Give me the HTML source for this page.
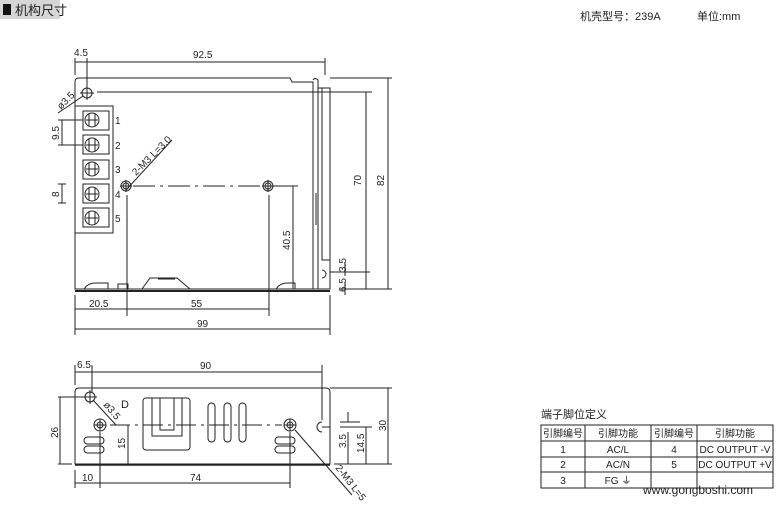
<!DOCTYPE html>
<html><head><meta charset="utf-8"><style>
body{margin:0;background:#fff;width:776px;height:507px;overflow:hidden}
svg{display:block}
text{font-family:"Liberation Sans","Noto Sans CJK SC",sans-serif;fill:#222}
</style></head><body>
<svg width="776" height="507" viewBox="0 0 776 507" xmlns="http://www.w3.org/2000/svg">
<rect x="0" y="0" width="60" height="19" fill="#d6d6d6"/>
<rect x="3" y="4" width="8" height="11" fill="#111"/>
<text x="15" y="15" font-size="13">机构尺寸</text>
<text x="580" y="20" font-size="11" fill="#444">机壳型号：239A</text>
<text x="697" y="20" font-size="11" fill="#444">单位:mm</text>

<g stroke="#222" fill="none" stroke-width="1">
<path d="M79 78 H290 L292 82 H313 V289 H75 V82 Q75 78 79 78Z"/>
<path d="M313 80 Q315 77 318 80 V289"/>
<path d="M318 88 H330 V289 H75"/>
<path d="M75 291 H330" stroke-width="2"/>
<path d="M322 88 V260 H330"/>
<path d="M316 193 V225"/>
<path d="M322 270 a4 4 0 1 1 0 8"/>
<circle cx="87" cy="93" r="5"/><path d="M80 93 H94 M87 86 V100"/>
<path d="M97 92 H372"/>
<rect x="75" y="106" width="38" height="127"/>
<rect x="83" y="111" width="26" height="19"/><rect x="83" y="135" width="26" height="19"/>
<rect x="83" y="160" width="26" height="19"/><rect x="83" y="184" width="26" height="19"/>
<rect x="83" y="208" width="26" height="19"/>
<g>
<circle cx="92" cy="120" r="7"/><circle cx="92" cy="145" r="7"/><circle cx="92" cy="169" r="7"/><circle cx="92" cy="194" r="7"/><circle cx="92" cy="218" r="7"/>
<path d="M89 114v12m6-12v12M86 120h12 M89 139v12m6-12v12M86 145h12 M89 163v12m6-12v12M86 169h12 M89 188v12m6-12v12M86 194h12 M89 212v12m6-12v12M86 218h12"/>
</g>
<circle cx="126" cy="186" r="5"/><circle cx="126" cy="186" r="3"/><path d="M120 186h12M126 180v12"/>
<circle cx="268" cy="186" r="5"/><circle cx="268" cy="186" r="3"/><path d="M262 186h12M268 180v12"/>
<path d="M133 186 H298" stroke-dasharray="22 5 3 5"/>
<path d="M126 190 L172 140"/>
<path d="M84 289 Q88 283 95 283 H108 V289 M118 289 V284 H128 V289 M142 289 L150 278 H177 L190 289 M158 279 H175 M276 289 Q280 283 287 283 H295 V289"/>
<path d="M75 58 V75 M87 58 V88 M325 58 V75 M75 62 H325"/>
<path d="M330 78 H392 M340 289 H392 M388 78 V289 M366 92 V289"/>
<path d="M330 272 H370 M345 262 V276 M345 282 V295"/>
<path d="M58 120 H83 M58 145 H83 M62 120 V145"/>
<path d="M58 184 H66 M58 203 H66 M62 184 V203"/>
<path d="M58 113 L83 96"/>
<path d="M275 186 H298 M293 186 V289"/>
<path d="M75 295 V335 M330 295 V335 M127 195 V316 M269 195 V316 M75 309 H269 M75 329 H330"/>

<path d="M79 388 H326 Q330 388 330 392 V464 H75 V392 Q75 388 79 388Z"/>
<path d="M75 465 H330" stroke-width="1.5"/>
<circle cx="90" cy="397" r="5"/><path d="M83 397h14M90 390v14"/>
<path d="M93 400 L116 425"/>
<circle cx="100" cy="425" r="6"/><circle cx="100" cy="425" r="3"/><path d="M94 425h12M100 419v12"/>
<circle cx="290" cy="425" r="6"/><circle cx="290" cy="425" r="3"/><path d="M284 425h12M290 419v12"/>
<path d="M110 425 H282" stroke-dasharray="20 5 3 5"/>
<path d="M295 430 L352 495"/>
<rect x="143" y="398" width="47" height="52" rx="3"/>
<path d="M152 398 V436 H182 V398 M160 398 V430 H174 V398"/>
<rect x="208" y="403" width="7" height="39" rx="3.5"/><rect x="224" y="403" width="7" height="39" rx="3.5"/><rect x="239" y="403" width="7" height="39" rx="3.5"/>
<rect x="84" y="437" width="20" height="7" rx="3.5"/><rect x="84" y="446" width="20" height="7" rx="3.5"/>
<rect x="275" y="437" width="20" height="7" rx="3.5"/><rect x="275" y="446" width="20" height="7" rx="3.5"/>
<path d="M322 422 a5 5 0 1 0 0 10 M322 427 h8"/>
<path d="M58 397 H85 M58 464 H72 M60 397 V464"/>
<path d="M110 425 H130 M128 425 V464"/>
<path d="M330 388 H392 M388 388 V464 M334 464 H392 M340 427 H372 M366 427 V464 M340 422 H360 M348 412 V422 M348 432 V464"/>
<path d="M75 470 V488 M100 432 V488 M290 432 V488 M75 483 H290"/>
<path d="M75 365 V385 M92 365 V392 M322 365 V420 M75 372 H322"/>
</g>

<g font-size="10">
<text x="74" y="56">4.5</text><text x="193" y="58">92.5</text>
<text x="115" y="124">1</text><text x="115" y="149">2</text><text x="115" y="173">3</text><text x="115" y="198">4</text><text x="115" y="222">5</text>
<text x="89" y="307">20.5</text><text x="191" y="307">55</text><text x="197" y="327">99</text>
<text transform="translate(361,186) rotate(-90)">70</text>
<text transform="translate(384,186) rotate(-90)">82</text>
<text transform="translate(290,250) rotate(-90)">40.5</text>
<text transform="translate(59,140) rotate(-90)">9.5</text>
<text transform="translate(59,197) rotate(-90)">8</text>
<text transform="translate(346,272) rotate(-90)">3.5</text>
<text transform="translate(346,292) rotate(-90)">6.5</text>
<text transform="translate(61,110) rotate(-45)">ø3.5</text>
<text transform="translate(136,176) rotate(-45)">2-M3 L=3.0</text>
<text x="77" y="368">6.5</text><text x="200" y="369">90</text>
<text transform="translate(58,438) rotate(-90)">26</text>
<text transform="translate(125,449) rotate(-90)">15</text>
<text transform="translate(386,431) rotate(-90)">30</text>
<text transform="translate(364,453) rotate(-90)">14.5</text>
<text transform="translate(346,448) rotate(-90)">3.5</text>
<text x="82" y="481">10</text><text x="190" y="481">74</text>
<text transform="translate(103,405) rotate(50)">ø3.5</text>
<text transform="translate(335,468) rotate(52)">2-M3 L=5</text>
<text x="121" y="408" font-size="11">D</text>
</g>

<text x="541" y="418" font-size="11" fill="#444">端子脚位定义</text>
<g stroke="#222" fill="none" stroke-width="1">
<rect x="541" y="425" width="232" height="63"/>
<path d="M541 441 H773 M541 457 H773 M541 472 H773 M585 425 V488 M651 425 V488 M697 425 V488"/>
</g>
<g font-size="10" text-anchor="middle">
<text x="563" y="437" fill="#555">引脚编号</text><text x="618" y="437" fill="#555">引脚功能</text><text x="674" y="437" fill="#555">引脚编号</text><text x="735" y="437" fill="#555">引脚功能</text>
<text x="563" y="453">1</text><text x="618" y="453">AC/L</text><text x="674" y="453">4</text><text x="735" y="453">DC OUTPUT -V</text>
<text x="563" y="468">2</text><text x="618" y="468">AC/N</text><text x="674" y="468">5</text><text x="735" y="468">DC OUTPUT +V</text>
<text x="563" y="484">3</text><text x="618" y="484">FG ⏚</text>
</g>
<text x="643" y="494" font-size="12" fill="#c4c4c4">www.gongboshi.com</text>
</svg>
</body></html>
